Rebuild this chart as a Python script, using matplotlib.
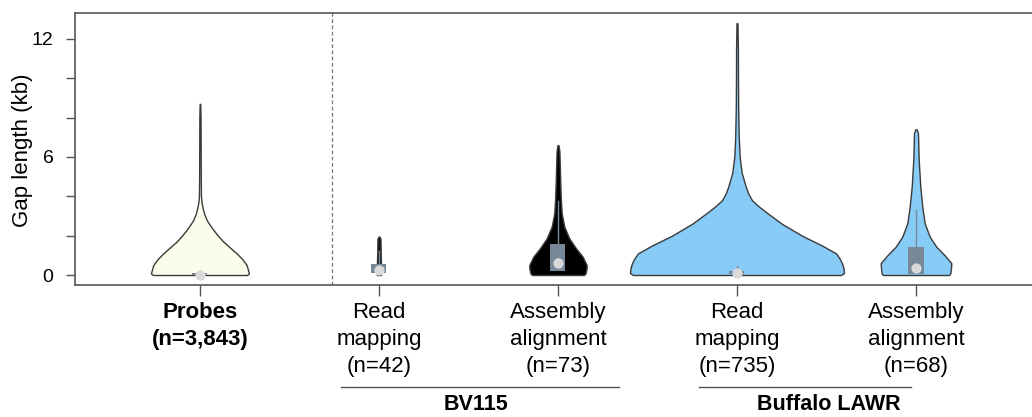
import numpy as np
import matplotlib
matplotlib.use("Agg")
import matplotlib.pyplot as plt
import matplotlib.transforms as mtransforms
from matplotlib.patches import Rectangle

plt.rcParams['font.family'] = ['Liberation Sans', 'DejaVu Sans']

# categories / counts
tick_labels = ["Probes\n(n=3,843)",
               "Read\nmapping\n(n=42)",
               "Assembly\nalignment\n(n=73)",
               "Read\nmapping\n(n=735)",
               "Assembly\nalignment\n(n=68)"]
groups = ["BV115", "Buffalo LAWR"]

# violin outlines: gap length (kb) and half-width (density, arbitrary units)
probes_y = [0, 0.08, 0.5, 0.8, 1.1, 1.4, 1.7, 2.0, 2.3, 2.55, 2.8, 3.1, 3.4, 3.7, 4.0, 5.0, 6.5, 8.0, 8.7]
probes_d = [4.7, 4.9, 4.67, 4.25, 3.67, 3.0, 2.33, 1.8, 1.33, 0.98, 0.67, 0.43, 0.27, 0.16, 0.10, 0.08, 0.07, 0.06, 0.03]

bv_read_y = [0, 0.1, 0.3, 0.6, 1.0, 1.5, 1.85, 1.95]
bv_read_d = [0.20, 0.22, 0.22, 0.20, 0.18, 0.16, 0.15, 0.05]

bv_asm_y = [0, 0.08, 0.3, 0.5, 0.93, 1.36, 1.86, 2.46, 3.14, 4.0, 5.2, 6.3, 6.6]
bv_asm_d = [2.6, 2.75, 2.85, 2.87, 2.47, 1.8, 1.13, 0.63, 0.37, 0.27, 0.20, 0.14, 0.05]

bf_read_y = [0, 0.1, 0.35, 0.6, 0.85, 1.1, 1.5, 2.0, 2.6, 3.2, 3.5, 3.8, 4.15, 4.5, 5.2, 6.0, 7.0, 8.5, 10, 11.5, 12.8]
bf_read_d = [10.4, 10.7, 10.65, 10.5, 10.25, 9.9, 8.5, 6.5, 4.5, 2.9, 2.15, 1.5, 1.12, 0.87, 0.47, 0.27, 0.18, 0.12, 0.10, 0.09, 0.05]

bf_asm_y = [0, 0.08, 0.35, 0.6, 1.0, 1.44, 1.95, 2.63, 3.47, 4.49, 5.85, 7.2, 7.4]
bf_asm_d = [3.3, 3.43, 3.5, 3.53, 2.87, 2.03, 1.37, 0.87, 0.63, 0.43, 0.27, 0.20, 0.08]

# box stats (kb)
q1 = [0.0, 0.1, 0.2, 0.05, 0.05]
q3 = [0.1, 0.55, 1.6, 0.2, 1.4]
medians = [0.0, 0.25, 0.6, 0.1, 0.35]
whisk_hi = [0.2, 1.2, 3.75, 0.45, 3.3]

fills = ["#fcfceb", "#111111", "#000000", "#87cbf7", "#87cbf7"]

profiles = [(probes_y, probes_d), (bv_read_y, bv_read_d), (bv_asm_y, bv_asm_d),
            (bf_read_y, bf_read_d), (bf_asm_y, bf_asm_d)]

fig = plt.figure(figsize=(10.32, 4.17), dpi=100)
ax = fig.add_axes([75 / 1032, 132 / 417, 957 / 1032, 272 / 417])

dens_scale = 10 / 179.0   # density units -> category spacing
box_half = 7.5 / 179.0

for i, (ys, ds) in enumerate(profiles):
    ys = np.array(ys)
    hw = np.array(ds) * dens_scale
    ax.fill_betweenx(ys, i - hw, i + hw, facecolor=fills[i], edgecolor="#3a3a3a",
                     linewidth=1.0, zorder=2)
    ax.plot([i, i], [q3[i], whisk_hi[i]], color="#7a8a9a", lw=1.0, zorder=3)
    ax.add_patch(Rectangle((i - box_half, q1[i]), 2 * box_half, q3[i] - q1[i],
                           facecolor="#778899", edgecolor="none", zorder=3))
    ax.scatter([i], [medians[i]], s=55, color="#d9d9d9", zorder=4, linewidths=0)

ax.axvline(0.737, color="#777777", lw=0.9, ls=(0, (3, 2)), zorder=1)

ax.set_xlim(-0.698, 4.648)
ax.set_ylim(-0.508, 13.32)
ax.set_yticks([0, 2, 4, 6, 8, 10, 12])
ax.set_yticklabels(["0", "", "", "6", "", "", "12"], fontsize=14)
ax.set_xticks(range(5))
ax.set_xticklabels(tick_labels, fontsize=16, linespacing=1.38)
ax.get_xticklabels()[0].set_fontweight("bold")

for s in ["left", "top", "bottom"]:
    ax.spines[s].set_color("#555555")
    ax.spines[s].set_linewidth(1.2)
ax.spines["right"].set_visible(False)
ax.tick_params(axis="y", length=6.5, width=1, color="#555555", pad=9)
ax.tick_params(axis="x", length=8, width=1, color="#555555", pad=4)

fig.text(23 / 1032, 1 - 150 / 417, "Gap length (kb)", rotation=90,
         ha="center", va="center", fontsize=16)

# group brackets under the tick labels
trans = mtransforms.blended_transform_factory(ax.transData, fig.transFigure)
group_lines = [(0.79, 2.34), (2.79, 3.97)]
group_centers = [1.54, 3.51]
for name, (x0, x1), xc in zip(groups, group_lines, group_centers):
    ax.plot([x0, x1], [1 - 387 / 417] * 2, transform=trans, color="#555555",
            lw=1.0, clip_on=False)
    ax.text(xc, 1 - 404 / 417, name, transform=trans, ha="center", va="center",
            fontsize=15.5, fontweight="bold")

fig.savefig("out.png", dpi=100)
